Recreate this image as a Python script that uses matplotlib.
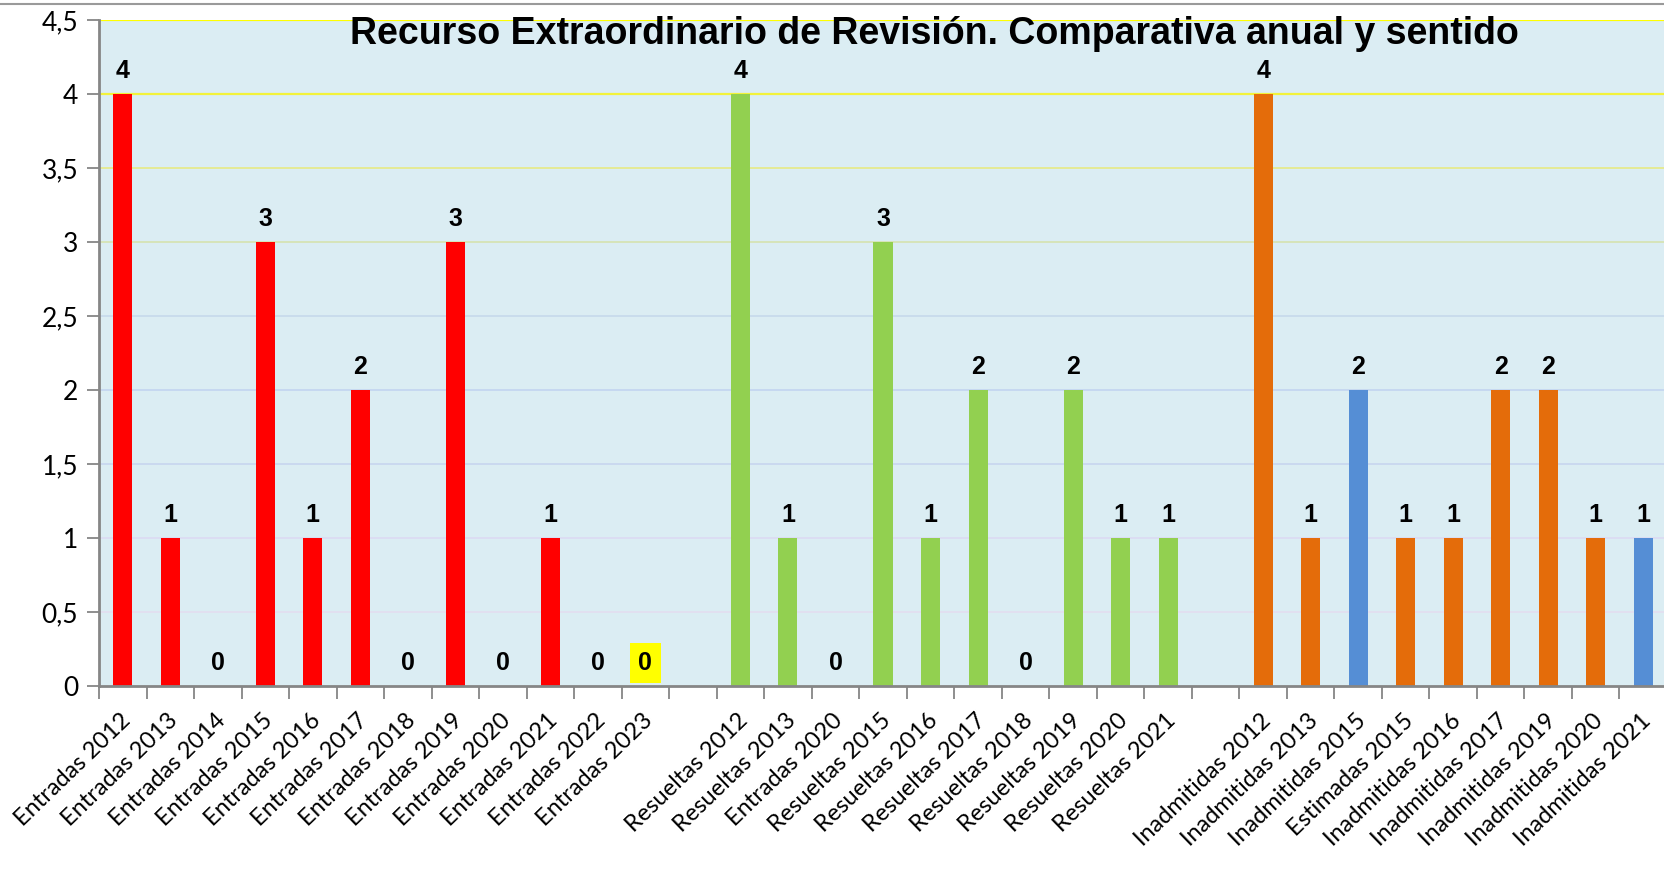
import matplotlib
matplotlib.use("Agg")
import matplotlib.pyplot as plt
import matplotlib.transforms as mtransforms
from matplotlib.lines import Line2D

# data
entradas_labels = ["Entradas 2012", "Entradas 2013", "Entradas 2014", "Entradas 2015",
                   "Entradas 2016", "Entradas 2017", "Entradas 2018", "Entradas 2019",
                   "Entradas 2020", "Entradas 2021", "Entradas 2022", "Entradas 2023"]
entradas = [4, 1, 0, 3, 1, 2, 0, 3, 0, 1, 0, 0]

resueltas_labels = ["Resueltas 2012", "Resueltas 2013", "Entradas 2020", "Resueltas 2015",
                    "Resueltas 2016", "Resueltas 2017", "Resueltas 2018", "Resueltas 2019",
                    "Resueltas 2020", "Resueltas 2021"]
resueltas = [4, 1, 0, 3, 1, 2, 0, 2, 1, 1]

inadm_labels = ["Inadmitidas 2012", "Inadmitidas 2013", "Inadmitidas 2015", "Estimadas 2015",
                "Inadmitidas 2016", "Inadmitidas 2017", "Inadmitidas 2019", "Inadmitidas 2020",
                "Inadmitidas 2021"]
inadm = [4, 1, 2, 1, 1, 2, 2, 1, 1]
inadm_blue = [False, False, True, False, False, False, False, False, True]

y_ticks = [0, 0.5, 1, 1.5, 2, 2.5, 3, 3.5, 4, 4.5]
y_ticklabels = ["0", "0,5", "1", "1,5", "2", "2,5", "3", "3,5", "4", "4,5"]
grid_colors = ["#e2dff0", "#dcdcf2", "#c9d7ef", "#c4d6f0", "#c8dbec",
               "#d6e4b4", "#e6ea8c", "#f2f23a", "#ffff00"]

RED, GREEN, ORANGE, BLUE = "#ff0000", "#92d050", "#e46c0a", "#558ed5"

# build positions with one empty slot between groups
xs, vals, cols, labels = [], [], [], []
pos = 0
for lab, v in zip(entradas_labels, entradas):
    xs.append(pos); vals.append(v); cols.append(RED); labels.append(lab); pos += 1
pos += 1
for lab, v in zip(resueltas_labels, resueltas):
    xs.append(pos); vals.append(v); cols.append(GREEN); labels.append(lab); pos += 1
pos += 1
for lab, v, b in zip(inadm_labels, inadm, inadm_blue):
    xs.append(pos); vals.append(v); cols.append(BLUE if b else ORANGE); labels.append(lab); pos += 1
nslots = pos

fig = plt.figure(figsize=(16.64, 8.74), dpi=100)
ax = fig.add_axes([99 / 1664, 1 - 686 / 874, (1667 - 99) / 1664, (686 - 20) / 874])
ax.set_facecolor("#dbedf3")

for yv, gc in zip(y_ticks[1:], grid_colors):
    ax.axhline(yv, color=gc, lw=1.6 if yv >= 4 else 1.3, zorder=1)

ax.bar(xs, vals, width=0.4, color=cols, zorder=2)

for i, (x, v) in enumerate(zip(xs, vals)):
    kw = {}
    if labels[i] == "Entradas 2023":
        kw["bbox"] = dict(facecolor="#ffff00", edgecolor="none", pad=6)
    ax.annotate(str(v), (x, v), xytext=(0, 8), textcoords="offset points",
                ha="center", va="bottom", fontsize=18, fontweight="bold",
                family="Liberation Sans", zorder=3, **kw)

ax.set_xlim(-0.5, nslots - 0.5)
ax.set_ylim(0, 4.5)
ax.set_yticks(y_ticks)
ax.set_yticklabels(y_ticklabels, fontsize=19, family="Lato")
ax.tick_params(axis="y", length=9, width=1.3, color="#868686", pad=6)

ax.set_xticks([i - 0.5 for i in range(nslots + 1)])
ax.set_xticklabels([])
ax.tick_params(axis="x", which="major", length=9, width=1.3, color="#868686", direction="out")
ax.set_xticks(xs, minor=True)
ax.set_xticklabels(labels, minor=True, rotation=44, ha="right", va="top",
                   rotation_mode="anchor", fontsize=17, family="Lato")
ax.tick_params(axis="x", which="minor", length=0, pad=0)
off = mtransforms.ScaledTranslation(-3 / 100, -24 / 100, fig.dpi_scale_trans)
for t in ax.xaxis.get_minorticklabels():
    t.set_transform(t.get_transform() + off)

for s in ["top", "right"]:
    ax.spines[s].set_visible(False)
for s in ["left", "bottom"]:
    ax.spines[s].set_color("#868686")
    ax.spines[s].set_linewidth(2)

fig.text(934 / 1664, 1 - 34 / 874, "Recurso Extraordinario de Revisión. Comparativa anual y sentido",
         ha="center", va="center", fontsize=27, fontweight="bold", family="Liberation Sans")

fig.add_artist(Line2D([0, 1], [1 - 4 / 874, 1 - 4 / 874], color="#9a9a9a", lw=1.5,
                      transform=fig.transFigure))

fig.savefig("out.png", dpi=100)
